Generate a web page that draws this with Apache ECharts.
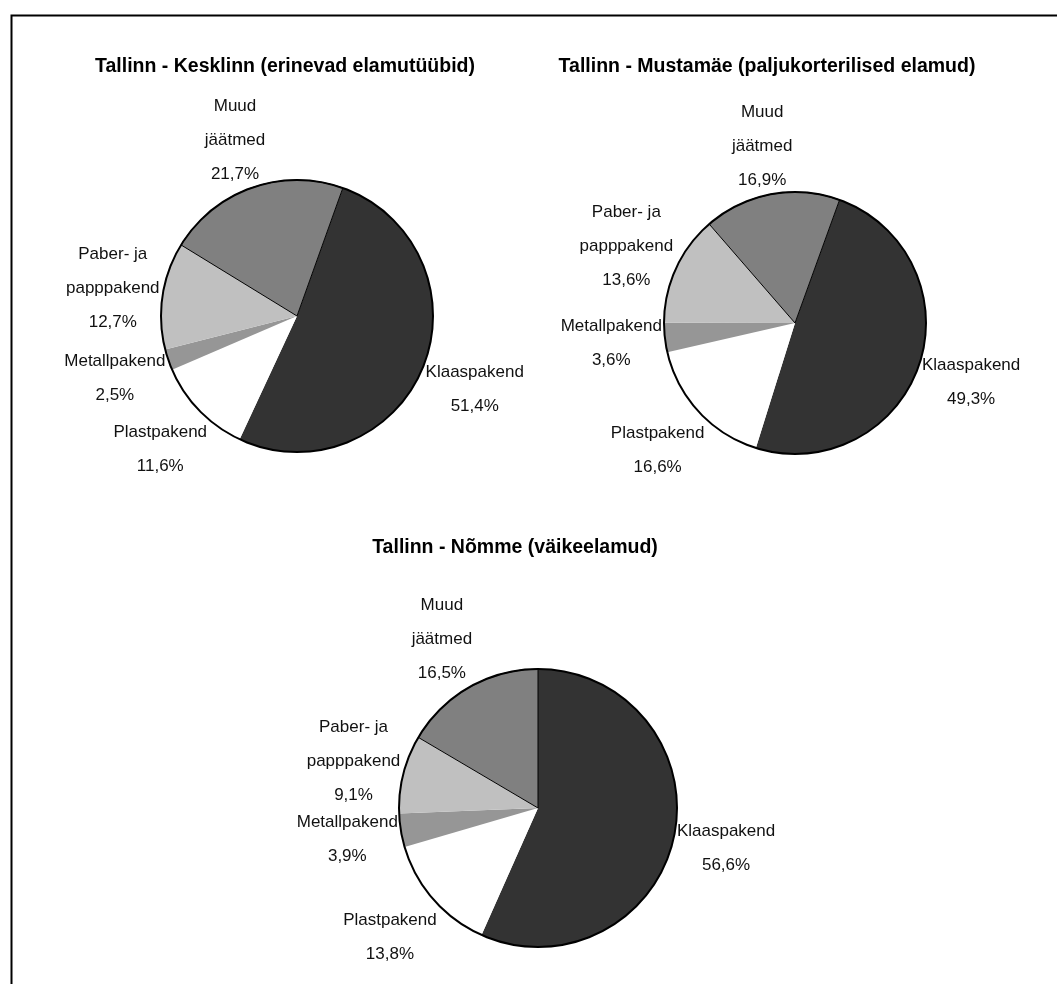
<!DOCTYPE html>
<html>
<head>
<meta charset="utf-8">
<script src="https://cdn.jsdelivr.net/npm/echarts@6/dist/echarts.min.js"></script>
<style>
  html, body { margin: 0; padding: 0; background: #fff; }
  #chart { width: 1057px; height: 984px; }
</style>
</head>
<body>
<div id="chart"></div>
<script>
// kategooriad (päripäeva, alates klaaspakendist)
var categories = ['Klaaspakend', 'Plastpakend', 'Metallpakend', 'Paber- ja\npapppakend', 'Muud\njäätmed']
var sliceColors = ['#333333', '#ffffff', '#969696', '#c0c0c0', '#808080']

// osakaalud, %
var kesklinn = [51.4, 11.6, 2.5, 12.7, 21.7]
var mustamae = [49.3, 16.6, 3.6, 13.6, 16.9]
var nomme = [56.6, 13.8, 3.9, 9.1, 16.5]

var titles = [
  'Tallinn - Kesklinn (erinevad elamutüübid)',
  'Tallinn - Mustamäe (paljukorterilised elamud)',
  'Tallinn - Nõmme (väikeelamud)'
]

var FONT = "'Liberation Sans', Arial, sans-serif"

// paigutus: keskpunkt, raadius, algusnurk
var layouts = [
  { cx: 297, cy: 316, r: 136, startAngle: 70.3, titleX: 285, titleY: 57 },
  { cx: 795, cy: 323, r: 131, startAngle: 70.1, titleX: 767, titleY: 57 },
  { cx: 538, cy: 808, r: 139, startAngle: 90, titleX: 515, titleY: 538 }
]

function fmt(v) {
  return v.toFixed(1).replace('.', ',') + '%'
}

// sildid nagu Excelis: kast puudutab ringi sektori keskjoone suunas
function labelPlacer(cfg, values) {
  var sum = values.reduce(function(a, b) { return a + b }, 0)
  var mids = []
  var acc = 0
  values.forEach(function(v) {
    mids.push(90 - cfg.startAngle + (acc + v / 2) / sum * 360)
    acc += v
  })
  return function(p) {
    var hw = p.labelRect.width / 2
    var hh = p.labelRect.height / 2
    var th = mids[p.dataIndex] * Math.PI / 180
    var ux = Math.sin(th)
    var uy = -Math.cos(th)
    var ex = Math.abs(ux) > 1e-6 ? hw / Math.abs(ux) : Infinity
    var ey = Math.abs(uy) > 1e-6 ? (uy > 0 ? hh + 2 : hh - 6) / Math.abs(uy) : Infinity
    var d = cfg.r + 3 + Math.min(ex, ey)
    return { x: cfg.cx + d * ux, y: cfg.cy + d * uy, align: 'center', verticalAlign: 'middle' }
  }
}

function pieSeries(values, cfg) {
  return {
    type: 'pie',
    center: [cfg.cx, cfg.cy],
    radius: cfg.r,
    startAngle: cfg.startAngle,
    clockwise: true,
    avoidLabelOverlap: false,
    silent: true,
    label: {
      show: true,
      position: 'outside',
      fontFamily: FONT,
      fontSize: 17,
      lineHeight: 34,
      color: '#111',
      formatter: function(p) { return p.name + '\n' + fmt(p.value) }
    },
    labelLine: { show: false, length: 0, length2: 0 },
    labelLayout: labelPlacer(cfg, values),
    data: values.map(function(v, i) {
      var item = { name: categories[i], value: v, itemStyle: { color: sliceColors[i], borderWidth: 0 } }
      // must joon paber/muud vahel
      if (i === 4) item.itemStyle = { color: sliceColors[i], borderColor: '#000', borderWidth: 1 }
      return item
    })
  }
}

// välimine kontuur
function outlineSeries(cfg) {
  return {
    type: 'pie',
    center: [cfg.cx, cfg.cy],
    radius: cfg.r,
    silent: true,
    label: { show: false },
    labelLine: { show: false },
    itemStyle: { color: 'transparent', borderColor: '#000', borderWidth: 2 },
    data: [{ value: 1, name: '' }]
  }
}

var chart = echarts.init(document.getElementById('chart'))
var datasets = [kesklinn, mustamae, nomme]

chart.setOption({
  backgroundColor: '#fff',
  animation: false,
  title: titles.map(function(t, i) {
    return {
      text: t,
      left: layouts[i].titleX,
      top: layouts[i].titleY,
      textAlign: 'center',
      padding: 0,
      textStyle: { fontFamily: FONT, fontSize: 19.5, fontWeight: 'bold', color: '#000' }
    }
  }),
  graphic: [{
    type: 'rect',
    left: 9,
    top: 13,
    shape: { width: 1200, height: 1200 },
    style: { fill: 'none', stroke: '#000', lineWidth: 2 },
    silent: true
  }],
  series: datasets.map(function(d, i) { return pieSeries(d, layouts[i]) })
    .concat(layouts.map(outlineSeries))
})
</script>
</body>
</html>
